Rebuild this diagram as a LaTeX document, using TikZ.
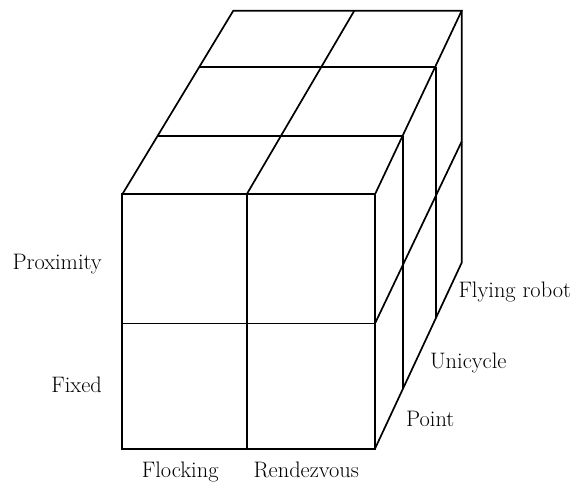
\documentclass[tikz,border=0pt]{standalone}
\begin{document}
\begin{tikzpicture}[x=1pt,y=-1pt,
  edge/.style={line width=1.7pt, line join=miter},
  lbl/.style={inner sep=0pt, font=\fontsize{22.4}{27}\selectfont}]
\useasboundingbox (0,0) rectangle (584,484);
% front face
\coordinate (f1) at (122.3,194.3);
\coordinate (f2) at (246.7,194.3);
\coordinate (f3) at (375,194.3);
\coordinate (m1) at (122.3,323.5);
\coordinate (m3) at (375,323.5);
\coordinate (b1) at (122.3,448.7);
\coordinate (b2) at (246.7,448.7);
\coordinate (b3) at (375,448.7);
% top back
\coordinate (t1) at (233.3,10.7);
\coordinate (t2) at (354.3,10.7);
\coordinate (t3) at (461.7,10.7);
% top intermediate
\coordinate (p1) at (158.3,136);
\coordinate (p3) at (403.3,136);
\coordinate (q1) at (199.3,66.7);
\coordinate (q3) at (436,66.7);
% right face
\coordinate (rm) at (461.7,141.5);
\coordinate (rb) at (461.7,262.7);
\coordinate (pb) at (403.3,388.5);
\coordinate (qb) at (436,318);

\draw[edge] (f1) rectangle (b3);
\draw[edge] (f2) -- (b2);
\draw[edge] (m1) -- (m3);
\draw[edge] (f1) -- (t1) -- (t3) -- (f3);
\draw[edge] (f2) -- (t2);
\draw[edge] (p1) -- (p3);
\draw[edge] (q1) -- (q3);
\draw[edge] (t3) -- (rb) -- (b3);
\draw[edge] (m3) -- (rm);
\draw[edge] (p3) -- (pb);
\draw[edge] (q3) -- (qb);

\node[lbl, anchor=base east] (prox) at (102,269) {Proximity};
\node[lbl, anchor=base east] (fixed) at (102,392) {Fixed};
\node[lbl, anchor=base west] (flock) at (141.7,477) {Flocking};
\node[lbl, anchor=base west] (rend) at (253.3,477) {Rendezvous};
\node[lbl, anchor=base west] (fly) at (458.3,297) {Flying robot};
\node[lbl, anchor=base west] (uni) at (430,368.3) {Unicycle};
\node[lbl, anchor=base west] (pt) at (406,426.7) {Point};
\end{tikzpicture}
\end{document}
